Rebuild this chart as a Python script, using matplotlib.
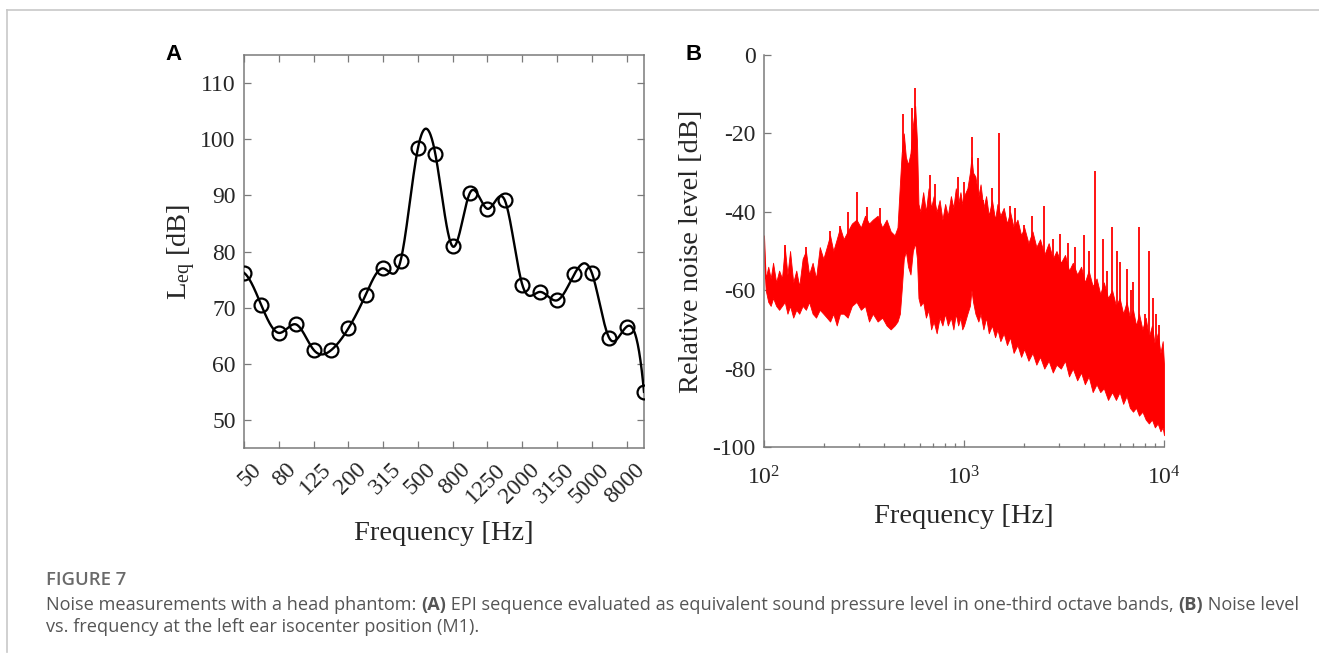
import numpy as np
import matplotlib
matplotlib.use("Agg")
import matplotlib.pyplot as plt
from matplotlib.lines import Line2D
import matplotlib.transforms as mtransforms

# ---------------- data ----------------
# Panel A: one-third octave band levels
band_labels = ["50", "80", "125", "200", "315", "500", "800", "1250",
               "2000", "3150", "5000", "8000"]
leq_db = [76.2, 70.4, 65.5, 67.0, 62.5, 62.4, 66.3, 72.3, 77.0, 78.3,
          98.4, 97.4, 80.9, 90.5, 87.6, 89.1, 74.1, 72.8, 71.3, 76.0,
          76.2, 64.6, 66.6, 55.0]

# Panel B: spectrum read as body envelope (upper / lower) plus narrow peaks
spec_freq = [100, 102, 105, 108, 111, 115, 119, 123, 127, 131, 135, 140, 145,
             150, 156, 162, 168, 175, 182, 190, 198, 206, 214, 222, 231, 240,
             250, 262, 275, 290, 305, 320, 335, 350, 370, 390, 410, 430, 450,
             465, 478, 488, 500, 512, 525, 540, 555, 570, 582,
             592, 605, 625, 645, 665, 685, 705, 730, 755, 780, 805, 830, 860,
             885, 910, 935, 960, 980,
             1000, 1040, 1070, 1090, 1110, 1140, 1180, 1210, 1250, 1290, 1330,
             1380, 1430, 1470, 1520, 1580, 1640, 1700, 1770, 1850, 1930, 2000,
             2100, 2200, 2300, 2400, 2520, 2650, 2780, 2900, 3050, 3200, 3350,
             3500, 3680, 3850, 4020, 4200, 4400, 4600, 4800, 5000, 5250, 5500,
             5750, 6000, 6250, 6500, 6750, 7000, 7250, 7500, 7800, 8100, 8400,
             8700, 9000, 9300, 9600, 9850, 10000]
spec_upper = [-46, -57, -54, -57, -53, -58, -55, -57, -49, -56, -50, -58, -55,
              -59, -52, -50, -56, -53, -57, -49, -52, -49, -46, -50, -47, -44,
              -47, -45, -43, -42, -44, -41, -43, -42, -41, -44, -42, -45, -46,
              -44, -33, -25, -20, -26, -28, -25, -18, -13, -22,
              -38, -40, -35, -40, -34, -39, -36, -40, -37, -42, -38, -41, -36,
              -39, -34, -38, -35, -38,
              -36, -34, -30, -26, -30, -31, -36, -33, -39, -36, -41,
              -37, -42, -38, -41, -39, -43, -40, -44, -42, -46, -44,
              -48, -45, -49, -47, -51, -48, -52, -50, -53, -51, -55,
              -53, -56, -54, -58, -55, -59, -57, -61, -58, -62, -60,
              -64, -62, -66, -63, -67, -65, -69, -66, -70, -67, -72,
              -69, -74, -71, -76, -73, -79]
spec_lower = [-52, -60, -63, -64, -62, -64, -65, -64, -63, -66, -64, -67, -65,
              -66, -64, -65, -63, -66, -67, -65, -66, -67, -68, -66, -69, -66,
              -66, -67, -64, -63, -65, -64, -68, -66, -68, -67, -69, -70, -69,
              -68, -66, -60, -52, -50, -54, -56, -50, -48, -52,
              -62, -64, -63, -67, -65, -70, -68, -71, -67, -69, -66, -69, -67,
              -70, -66, -69, -67, -70,
              -69, -66, -64, -60, -63, -66, -68, -66, -70, -67, -71,
              -69, -72, -70, -73, -71, -74, -72, -76, -74, -77, -75,
              -78, -76, -79, -77, -80, -78, -81, -79, -80, -78, -82,
              -80, -83, -81, -84, -82, -86, -84, -86, -85, -88, -86,
              -88, -86, -89, -87, -90, -91, -90, -92, -91, -93, -94,
              -93, -95, -94, -96, -95, -97]
peak_freq = [127, 163, 214, 240, 263, 291, 327, 381, 495, 550, 569, 676, 720,
             933, 1000, 1096, 1150, 1175, 1250, 1380, 1497, 1698, 1800, 1995,
             2200, 2512, 2660, 2800, 3020, 3300, 3600, 3981, 4200, 4519, 4955,
             5200, 5495, 5800, 6026, 6500, 6800, 7000, 7500, 8000, 8450, 8800,
             9100, 9400]
peak_base = [-57, -55, -50, -48, -46, -44, -45, -44, -25, -26, -20, -40, -42,
             -38, -40, -32, -34, -36, -39, -40, -42, -45, -46, -49,
             -50, -53, -54, -55, -56, -58, -58, -60, -61, -62, -63,
             -64, -66, -67, -68, -70, -71, -72, -73, -76, -78, -80,
             -80, -82]
peak_top = [-48.5, -49, -45, -43.5, -40, -35, -38.8, -39, -15, -13.5, -8.5,
            -30.6, -33, -31, -32.4, -20.9, -33, -26.3, -37, -34, -20, -38.5,
            -39, -43.4, -41, -38.5, -49, -47, -45.7, -48, -49, -46, -50,
            -29.7, -47, -55, -44, -50, -52.8, -54.6, -60, -58, -44, -66,
            -50, -62, -66, -69]

# ---------------- styling ----------------
SERIF = "Liberation Serif"
TXT = "#262626"
SPINE = "#7a7a7a"
plt.rcParams["mathtext.fontset"] = "custom"
plt.rcParams["mathtext.rm"] = SERIF
plt.rcParams["mathtext.it"] = SERIF + ":italic"
plt.rcParams["font.family"] = [SERIF, "DejaVu Sans"]
plt.rcParams["axes.unicode_minus"] = False

W, H = 1319, 662
fig = plt.figure(figsize=(W / 100, H / 100), dpi=100)


def box(l, t, r, b):
    return [l / W, 1 - b / H, (r - l) / W, (b - t) / H]


# frame lines of the page
fig.add_artist(Line2D([7 / W, 1.0], [1 - 10 / H, 1 - 10 / H], color="#c8c8c8", lw=1.2))
fig.add_artist(Line2D([7 / W, 7 / W], [1 - 10 / H, 1 - 652 / H], color="#c8c8c8", lw=1.2))


def spline_curve(y, per=40):
    """Not-a-knot cubic spline through equally spaced points (index space)."""
    y = np.asarray(y, float)
    n = len(y)
    A = np.zeros((n, n))
    rhs = np.zeros(n)
    A[0, 0:3] = [1, -2, 1]
    A[-1, -3:] = [1, -2, 1]
    for i in range(1, n - 1):
        A[i, i - 1:i + 2] = [1, 4, 1]
        rhs[i] = 6 * (y[i + 1] - 2 * y[i] + y[i - 1])
    M = np.linalg.solve(A, rhs)
    xs, ys = [], []
    for i in range(n - 1):
        u = np.linspace(0, 1, per, endpoint=(i == n - 2))
        s = ((1 - u) * y[i] + u * y[i + 1]
             + ((1 - u) ** 3 - (1 - u)) * M[i] / 6 + (u ** 3 - u) * M[i + 1] / 6)
        xs.append(i + u)
        ys.append(s)
    return np.concatenate(xs), np.concatenate(ys)


# ---------------- Panel A ----------------
axA = fig.add_axes(box(244, 55, 644, 448))
idx = np.arange(len(leq_db))
cx, cy = spline_curve(leq_db)
axA.plot(cx, cy, color="black", lw=1.7, zorder=3)
axA.plot(idx, leq_db, "o", mfc="none", mec="black", ms=10, mew=1.6, zorder=4)
axA.set_xlim(0, len(leq_db) - 1)
axA.set_ylim(45, 115)
axA.set_xticks(idx[::2])
axA.set_xticklabels(band_labels, rotation=45, ha="right", va="top",
                    rotation_mode="anchor")
axA.set_yticks(np.arange(50, 111, 10))
axA.tick_params(direction="in", top=True, right=True, length=5, width=0.9,
                color=SPINE, labelsize=17, labelcolor=TXT, pad=6)
axA.tick_params(axis="x", pad=8)
shift = mtransforms.ScaledTranslation(7 / 100, 0, fig.dpi_scale_trans)
for lab in axA.get_xticklabels():
    lab.set_transform(lab.get_transform() + shift)
for s in axA.spines.values():
    s.set_color(SPINE)
    s.set_linewidth(1.1)
axA.set_xlabel("Frequency [Hz]", fontsize=20.5, color=TXT, labelpad=10)
axA.set_ylabel(r"L$_\mathrm{eq}$ [dB]", fontsize=20.5, color=TXT, labelpad=2)

# ---------------- Panel B ----------------
axB = fig.add_axes(box(764, 55, 1164, 447))
axB.fill_between(spec_freq, spec_lower, spec_upper, color="#ff0000", lw=0.6,
                 edgecolor="#ff0000", zorder=2)
axB.vlines(peak_freq, peak_base, peak_top, color="#ff0000", lw=1.3, zorder=3)
axB.set_xscale("log")
axB.set_xlim(100, 10000)
axB.set_ylim(-100, 0)
axB.set_yticks(np.arange(-100, 1, 20))
axB.set_xticks([100, 1000, 10000])
axB.set_xticklabels([r"10$^{2}$", r"10$^{3}$", r"10$^{4}$"])
axB.spines["top"].set_visible(False)
axB.spines["right"].set_visible(False)
for s in ("left", "bottom"):
    axB.spines[s].set_color(SPINE)
    axB.spines[s].set_linewidth(1.1)
axB.tick_params(which="both", direction="in", color=SPINE, width=0.9,
                labelsize=17, labelcolor=TXT, pad=6)
axB.tick_params(which="major", length=5)
axB.tick_params(which="minor", length=3)
axB.tick_params(axis="x", which="major", pad=14)
axB.set_xlabel("Frequency [Hz]", fontsize=20.5, color=TXT, labelpad=10)
axB.set_ylabel("Relative noise level [dB]", fontsize=20.5, color=TXT, labelpad=6)

# panel letters
fig.text(173 / W, 1 - 55 / H, "A", fontsize=16, fontweight="bold",
         family="Liberation Sans", ha="center", va="center", color="black")
fig.text(694 / W, 1 - 55 / H, "B", fontsize=16, fontweight="bold",
         family="Liberation Sans", ha="center", va="center", color="black")

# ---------------- caption ----------------
CAP = "Open Sans"
CAPC = "#555555"
fig.text(46 / W, 1 - 580 / H, "FIGURE 7", fontsize=13.3, fontweight="semibold",
         family=CAP, color="#6a6a6a", ha="left", va="center")

fig.canvas.draw()
renderer = fig.canvas.get_renderer()


def runs(x_px, y_px, parts, size=13.05):
    x = x_px
    for txt, bold in parts:
        t = fig.text(x / W, 1 - y_px / H, txt, fontsize=size, family=CAP,
                     fontweight="bold" if bold else "normal", color=CAPC,
                     ha="left", va="baseline")
        bb = t.get_window_extent(renderer=renderer)
        x += bb.width


runs(46, 610, [("Noise measurements with a head phantom: ", False), ("(A)", True),
               (" EPI sequence evaluated as equivalent sound pressure level in one-third octave bands, ", False),
               ("(B)", True), (" Noise level", False)])
runs(46, 632, [("vs. frequency at the left ear isocenter position (M1).", False)])

fig.savefig("out.png", dpi=100)
